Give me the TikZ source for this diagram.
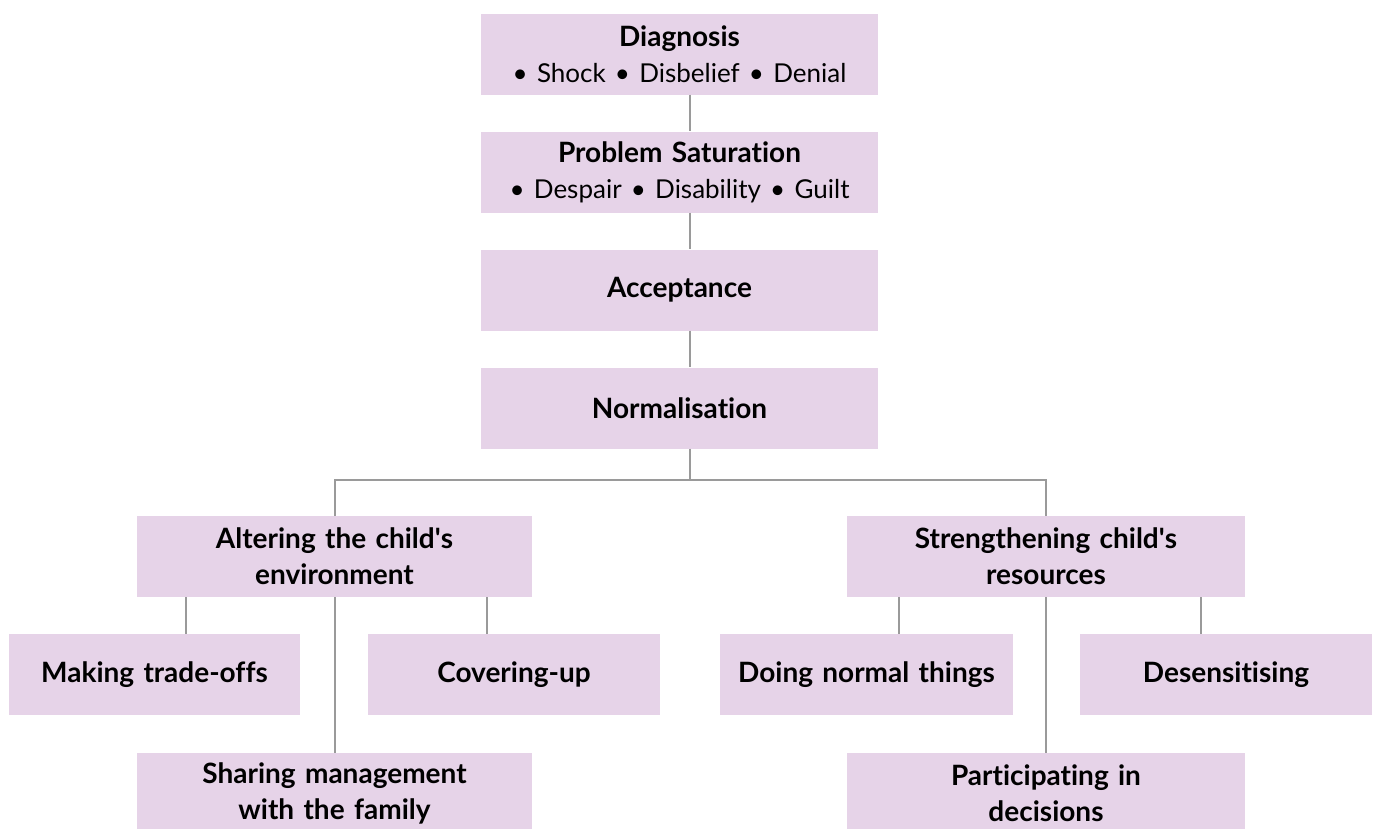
\documentclass[tikz,border=0pt]{standalone}
\usepackage{fontspec}
\setmainfont{Lato}[Ligatures={NoCommon}]
\definecolor{boxfill}{HTML}{E6D3E8}
\definecolor{linegray}{HTML}{9A9A9A}
\newcommand{\sublinefont}{\fontsize{26}{36}\selectfont}
\newcommand{\apos}{\textquotesingle}
\begin{document}
\begin{tikzpicture}[x=1pt,y=-1pt,
  every node/.style={font=\fontsize{28}{36}\selectfont},
  box/.style={fill=boxfill, draw=none, align=center, inner sep=0pt, minimum height=81pt},
  wide/.style={box, minimum width=397pt, text width=385pt},
  small/.style={box, minimum width=292pt, text width=285pt},
  conn/.style={draw=linegray, line width=2pt}]
\useasboundingbox (0,0) rectangle (1376,828);
\clip (0,0) rectangle (1376,828);
\node[wide] (diag) at (679.5,54) {\textbf{Diagnosis}\\ {\sublinefont\textbullet\ Shock\hspace{0.35em}\textbullet\ Disbelief\hspace{0.35em}\textbullet\ Denial}};
\node[wide] (prob) at (679.5,172) {\textbf{Problem Saturation}\\ {\sublinefont\textbullet\ Despair\hspace{0.35em}\textbullet\ Disability\hspace{0.35em}\textbullet\ Guilt}};
\node[wide] (acc) at (679.5,290) {\textbf{Acceptance}};
\node[wide] (norm) at (679.5,408) {\textbf{Normalisation}};
\node[wide, minimum width=395pt] (alt) at (334.5,556.5) {\textbf{Altering the child\apos s}\\\textbf{environment}};
\node[wide, minimum width=398pt] (str) at (1046,556.5) {\textbf{Strengthening child\apos s}\\\textbf{resources}};
\node[small, minimum width=291pt] (mak) at (154.5,674.5) {\textbf{Making trade-offs}};
\node[small] (cov) at (514,674.5) {\textbf{Covering-up}};
\node[small, minimum width=293pt] (doi) at (866.5,674.5) {\textbf{Doing normal things}};
\node[small] (des) at (1226,674.5) {\textbf{Desensitising}};
\node[wide, minimum width=395pt] (sha) at (334.5,793.5) {\textbf{Sharing management}\\\textbf{with the family}};
\node[wide, minimum width=398pt] (par) at (1046,793.5) {\textbf{Participating in}\\\textbf{decisions}};
% spine
\draw[conn] ([xshift=10.5pt]diag.south) -- ([xshift=10.5pt]prob.north);
\draw[conn] ([xshift=10.5pt]prob.south) -- ([xshift=10.5pt]acc.north);
\draw[conn] ([xshift=10.5pt]acc.south) -- ([xshift=10.5pt]norm.north);
\coordinate (split) at ([xshift=10.5pt,yshift=-31pt]norm.south);
\draw[conn] ([xshift=10.5pt]norm.south) -- (split);
\draw[conn] (alt.north) -- (alt.north |- split) -- (str.north |- split) -- (str.north);
% left children
\draw[conn] ([xshift=-149pt]alt.south) -- ([xshift=-149pt]alt.south |- mak.north);
\draw[conn] ([xshift=152pt]alt.south) -- ([xshift=152pt]alt.south |- cov.north);
\draw[conn] (alt.south) -- (sha.north);
% right children
\draw[conn] ([xshift=-147pt]str.south) -- ([xshift=-147pt]str.south |- doi.north);
\draw[conn] ([xshift=155pt]str.south) -- ([xshift=155pt]str.south |- des.north);
\draw[conn] (str.south) -- (par.north);
\end{tikzpicture}
\end{document}
